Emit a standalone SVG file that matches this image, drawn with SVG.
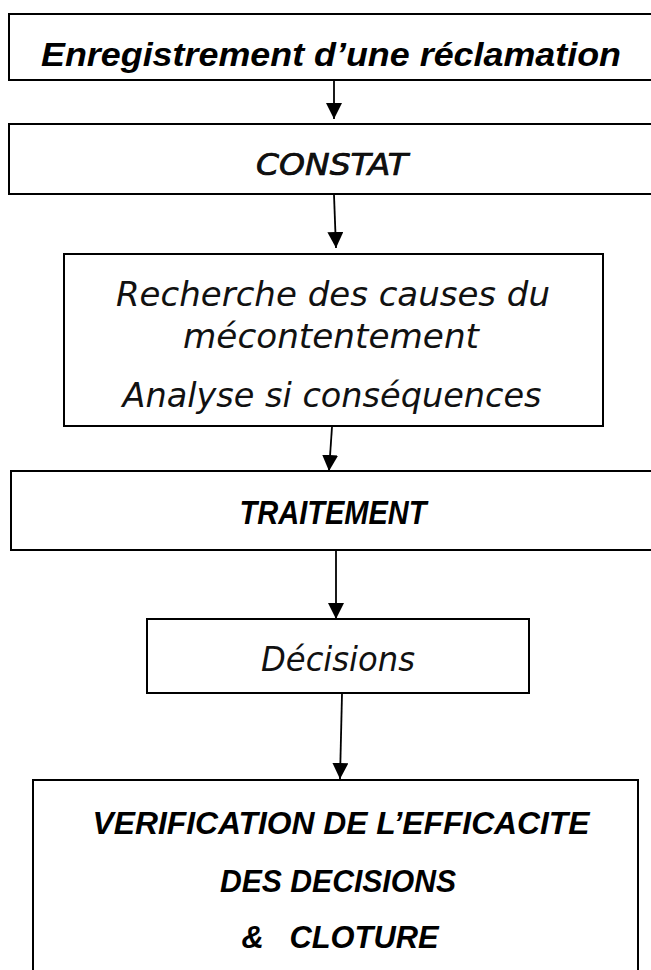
<svg xmlns="http://www.w3.org/2000/svg" width="651" height="970" viewBox="0 0 651 970">
<style>
.box{fill:#fff;stroke:#000;stroke-width:2}
.bi{font-family:"Liberation Sans",Arial,sans-serif;font-weight:bold;font-style:italic;fill:#000}
.ri{font-family:"DejaVu Sans","Liberation Sans",sans-serif;font-style:italic;fill:#111}
.med{stroke:#000;stroke-width:0.7}
.conn{stroke:#000;stroke-width:1.8;fill:none;marker-end:url(#ah)}
</style>
<defs>
<marker id="ah" viewBox="0 0 16 16" refX="16" refY="8" markerUnits="userSpaceOnUse" markerWidth="16" markerHeight="16" orient="auto">
<path d="M0,0 L16,8 L0,16 z" fill="#000"/>
</marker>
</defs>
<rect width="651" height="970" fill="#fff"/>
<g id="n1">
<rect class="box" x="9" y="14" width="660" height="66"/>
<text class="bi" x="331" y="66" font-size="34" text-anchor="middle" textLength="580" lengthAdjust="spacingAndGlyphs">Enregistrement d’une réclamation</text>
</g>
<g id="n2">
<rect class="box" x="9" y="124" width="660" height="70"/>
<text class="ri med" x="332" y="175" font-size="30" text-anchor="middle" textLength="152" lengthAdjust="spacingAndGlyphs">CONSTAT</text>
</g>
<g id="n3">
<rect class="box" x="64" y="254" width="539" height="172"/>
<text class="ri" x="333" y="306" font-size="33" text-anchor="middle" textLength="434" lengthAdjust="spacingAndGlyphs">Recherche des causes du</text>
<text class="ri" x="331" y="348" font-size="33" text-anchor="middle" textLength="296" lengthAdjust="spacingAndGlyphs">mécontentement</text>
<text class="ri" x="332" y="407" font-size="33" text-anchor="middle" textLength="419" lengthAdjust="spacingAndGlyphs">Analyse si conséquences</text>
</g>
<g id="n4">
<rect class="box" x="11" y="471" width="660" height="79"/>
<text class="bi" x="333" y="524" font-size="33" text-anchor="middle" textLength="187" lengthAdjust="spacingAndGlyphs">TRAITEMENT</text>
</g>
<g id="n5">
<rect class="box" x="147" y="619" width="382" height="74"/>
<text class="ri" x="338" y="671" font-size="33" text-anchor="middle" textLength="154" lengthAdjust="spacingAndGlyphs">Décisions</text>
</g>
<g id="n6">
<rect class="box" x="33" y="780" width="605" height="200"/>
<text class="bi" x="341" y="834" font-size="32" text-anchor="middle" textLength="497" lengthAdjust="spacingAndGlyphs">VERIFICATION DE L’EFFICACITE</text>
<text class="bi" x="338" y="892" font-size="32" text-anchor="middle" textLength="236" lengthAdjust="spacingAndGlyphs">DES DECISIONS</text>
<text class="bi" x="340" y="948" font-size="32" text-anchor="middle" textLength="197" lengthAdjust="spacingAndGlyphs" xml:space="preserve">&amp;   CLOTURE</text>
</g>
<g id="connectors">
<line class="conn" x1="334" y1="81" x2="334" y2="119"/>
<line class="conn" x1="334" y1="195" x2="336" y2="248"/>
<line class="conn" x1="332" y1="427" x2="329" y2="471"/>
<line class="conn" x1="336" y1="551" x2="336" y2="619"/>
<line class="conn" x1="342" y1="694" x2="340" y2="779"/>
</g>
</svg>
